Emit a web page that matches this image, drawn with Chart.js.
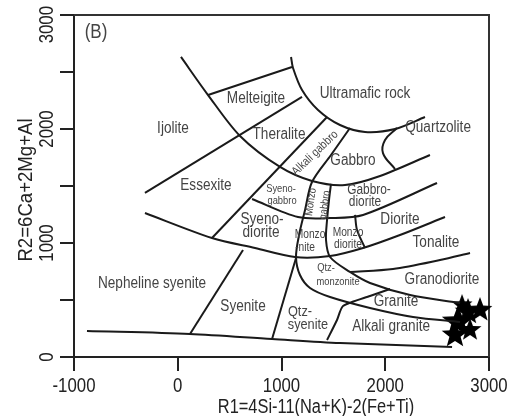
<!DOCTYPE html>
<html>
<head>
<meta charset="utf-8">
<title>R1-R2 diagram</title>
<script src="https://cdn.jsdelivr.net/npm/chart.js@4.4.1/dist/chart.umd.min.js"></script>
<style>
  html, body { margin: 0; padding: 0; background: #fff; }
  canvas { display: block; }
</style>
</head>
<body>
<canvas id="chart" width="510" height="416"></canvas>
<script>
const FONT = "'Liberation Sans', Arial, sans-serif";

// tick labels
const r1Ticks = [-1000, 0, 1000, 2000, 3000];
const r2Ticks = [0, 1000, 2000, 3000];
const r1Title = 'R1=4Si-11(Na+K)-2(Fe+Ti)';
const r2Title = 'R2=6Ca+2Mg+Al';

// field boundaries as [R1, R2]
const bndBase = [[-875, 228], [118, 202], [909, 158], [1564, 123], [2644, 88]];
const bndNephSyenite = [[118, 202], [629, 939]];
const bndSyenite = [[909, 158], [1140, 868]];
const bndQtzSyenite = [[1439, 149], [1535, 325], [1593, 447], [1853, 535], [2046, 596]];
const bndIjolite = [[31, 2632], [292, 2298], [600, 1939], [986, 1667], [1294, 1544], [1612, 1509], [1950, 1588], [2431, 1772]];
const bndMelteigite = [[292, 2298], [1101, 2544]];
const bndUltramafic = [[1092, 2632], [1111, 2535], [1198, 2342], [1352, 2167], [1564, 2035], [1805, 1974], [2094, 2000], [2383, 2105]];
const bndQuartzolite = [[2113, 2009], [1998, 1904], [1978, 1789], [2094, 1649]];
const bndEssexite = [[-316, 1439], [1198, 2281]];
const bndTheralite = [[1439, 2105], [330, 1044]];
const bndSyenodiorite = [[-316, 1263], [330, 1044], [745, 956], [1130, 877], [1468, 886], [1786, 956], [2142, 1070], [2576, 1228]];
const bndGabbrodiorite = [[716, 1386], [1159, 1228], [1468, 1219], [1786, 1246], [2499, 1526]];
const bndMonzodiorite = [[1477, 1518], [1458, 1377], [1439, 1202], [1429, 1026], [1468, 877], [1660, 746], [1853, 649], [2239, 544], [2721, 474]];
const bndDiorite = [[1709, 1246], [1728, 1114], [1805, 956]];
const bndMonzonite = [[1660, 2009], [1477, 1772], [1294, 1535], [1227, 1290], [1169, 1070], [1140, 877], [1178, 719], [1275, 605], [1468, 526], [1853, 430], [2268, 351], [2721, 307]];
const bndTonalite = [[1660, 746], [2075, 772], [2528, 851], [2817, 912]];

// samples
const sampleR1 = [2701, 2798, 2913, 2672, 2817, 2740];
const sampleR2 = [307, 395, 412, 193, 237, 456];

// field names
const fieldNames = ['(B)', 'Ijolite', 'Melteigite', 'Ultramafic rock', 'Quartzolite', 'Theralite',
  'Alkali gabbro', 'Gabbro', 'Essexite', 'Syeno-', 'gabbro', 'Monzo', 'gabbro', 'Gabbro-', 'diorite',
  'Syeno-', 'diorite', 'Monzo', '-nite', 'Monzo', 'diorite', 'Diorite', 'Tonalite', 'Qtz-', 'monzonite',
  'Granodiorite', 'Granite', 'Alkali granite', 'Qtz-', 'syenite', 'Syenite', 'Nepheline syenite'];
const fieldR1 = [-788, -46, 754, 1805, 2509, 976, 1323, 1689, 272, 995, 1005, 1284, 1419, 1843, 1805,
  812, 803, 1275, 1227, 1641, 1641, 2142, 2489, 1429, 1545, 2547, 2104, 2056, 1178, 1255, 629, -248];
const fieldR2 = [2851, 2000, 2263, 2307, 2009, 1947, 1789, 1719, 1500, 1474, 1368, 1360, 1333, 1465, 1360,
  1202, 1088, 1070, 956, 1088, 982, 1202, 1000, 781, 658, 675, 482, 263, 395, 281, 439, 640];
// text styling (px, degrees)
const fieldSize = [20, 16, 16, 16, 16, 16, 12, 16, 16, 11, 11, 11, 11, 14, 14,
  16, 16, 12, 12, 12, 12, 16, 16, 11, 11, 16, 16, 16, 15, 15, 16, 16];
const fieldAngle = [0, 0, 0, 0, 0, 0, -44, 0, 0, 0, 0, -82, -82, 0, 0,
  0, 0, 0, 0, 0, 0, 0, 0, 0, 0, 0, 0, 0, 0, 0, 0, 0];

function edge(points, tension) {
  return {
    data: points.map(p => ({ x: p[0], y: p[1] })),
    showLine: true,
    borderColor: '#1a1a1a',
    borderWidth: 2,
    pointRadius: 0,
    tension: tension,
    fill: false
  };
}

function starImage(d) {
  const c = document.createElement('canvas');
  c.width = c.height = d;
  const g = c.getContext('2d');
  g.fillStyle = '#000';
  g.beginPath();
  for (let k = 0; k < 10; k++) {
    const r = k % 2 ? d * 0.21 : d / 2;
    const a = -Math.PI / 2 + k * Math.PI / 5;
    g.lineTo(d / 2 + r * Math.cos(a), d / 2 + r * Math.sin(a));
  }
  g.closePath();
  g.fill();
  return c;
}
const starSizes = [34, 28, 26, 28, 24, 22];
const stars = starSizes.map(starImage);

// narrow-looking text: squeeze along the reading direction
function squeezed(ctx, text, px, py, size, angle, sx) {
  ctx.save();
  ctx.translate(px, py);
  ctx.rotate(angle * Math.PI / 180);
  ctx.scale(sx, 1);
  ctx.font = size + 'px ' + FONT;
  ctx.fillText(text, 0, 0);
  ctx.restore();
}

const frame = {
  id: 'frame',
  beforeDatasetsDraw(chart) {
    const { ctx, chartArea: a } = chart;
    ctx.save();
    ctx.strokeStyle = '#333';
    ctx.lineWidth = 2;
    ctx.beginPath();
    ctx.moveTo(a.left, a.top);
    ctx.lineTo(a.right, a.top);
    ctx.lineTo(a.right, a.bottom);
    ctx.stroke();
    ctx.restore();
  }
};

const fieldLabels = {
  id: 'fieldLabels',
  afterDatasetsDraw(chart) {
    const { ctx, scales: { x, y } } = chart;
    ctx.save();
    ctx.fillStyle = '#444';
    ctx.textAlign = 'center';
    ctx.textBaseline = 'middle';
    fieldNames.forEach((name, i) => {
      squeezed(ctx, name, x.getPixelForValue(fieldR1[i]), y.getPixelForValue(fieldR2[i]),
        fieldSize[i], fieldAngle[i], 0.85);
    });
    ctx.restore();
  }
};

const axisText = {
  id: 'axisText',
  afterDraw(chart) {
    const { ctx, chartArea: a, scales: { x, y } } = chart;
    ctx.save();
    ctx.fillStyle = '#222';
    ctx.textAlign = 'center';
    ctx.textBaseline = 'alphabetic';
    r1Ticks.forEach(v => {
      squeezed(ctx, String(v), x.getPixelForValue(v), a.bottom + 35, 21, 0, 0.8);
    });
    ctx.font = '21px ' + FONT;
    r2Ticks.forEach(v => {
      const half = ctx.measureText(String(v)).width * 0.8 / 2;
      const py = Math.max(y.getPixelForValue(v), 6 + half);
      squeezed(ctx, String(v), a.left - 21, py, 21, -90, 0.8);
    });
    squeezed(ctx, r1Title, 316, 413, 20, 0, 0.82);
    squeezed(ctx, r2Title, 32, 190, 20, -90, 0.93);
    ctx.restore();
  }
};

const datasets = [
  edge(bndBase, 0.3),
  edge(bndNephSyenite, 0),
  edge(bndSyenite, 0),
  edge(bndQtzSyenite, 0.2),
  edge(bndIjolite, 0.3),
  edge(bndMelteigite, 0),
  edge(bndUltramafic, 0.3),
  edge(bndQuartzolite, 0.4),
  edge(bndEssexite, 0),
  edge(bndTheralite, 0),
  edge(bndSyenodiorite, 0.3),
  edge(bndGabbrodiorite, 0.3),
  edge(bndMonzodiorite, 0.3),
  edge(bndDiorite, 0.3),
  edge(bndMonzonite, 0.3),
  edge(bndTonalite, 0.3),
  {
    data: sampleR1.map((v, i) => ({ x: v, y: sampleR2[i] })),
    pointStyle: ctx => stars[ctx.dataIndex],
    showLine: false,
    clip: false
  }
];

Chart.defaults.font.family = FONT;

new Chart(document.getElementById('chart'), {
  type: 'scatter',
  data: { datasets },
  options: {
    responsive: false,
    animation: false,
    layout: { padding: { top: 15, right: 21, left: 0, bottom: 0 } },
    plugins: { legend: { display: false }, tooltip: { enabled: false } },
    scales: {
      x: {
        type: 'linear',
        min: -1000,
        max: 3000,
        afterFit: s => { s.height = 59; },
        ticks: { stepSize: 1000, display: false },
        grid: { drawOnChartArea: false, color: '#222', lineWidth: 2, tickLength: 14 },
        border: { color: '#222', width: 2 }
      },
      y: {
        type: 'linear',
        min: 0,
        max: 3000,
        afterFit: s => { s.width = 74; },
        ticks: { stepSize: 500, display: false },
        grid: { drawOnChartArea: false, color: '#222', lineWidth: 2, tickLength: 14 },
        border: { color: '#222', width: 2 }
      }
    }
  },
  plugins: [frame, fieldLabels, axisText]
});
</script>
</body>
</html>
